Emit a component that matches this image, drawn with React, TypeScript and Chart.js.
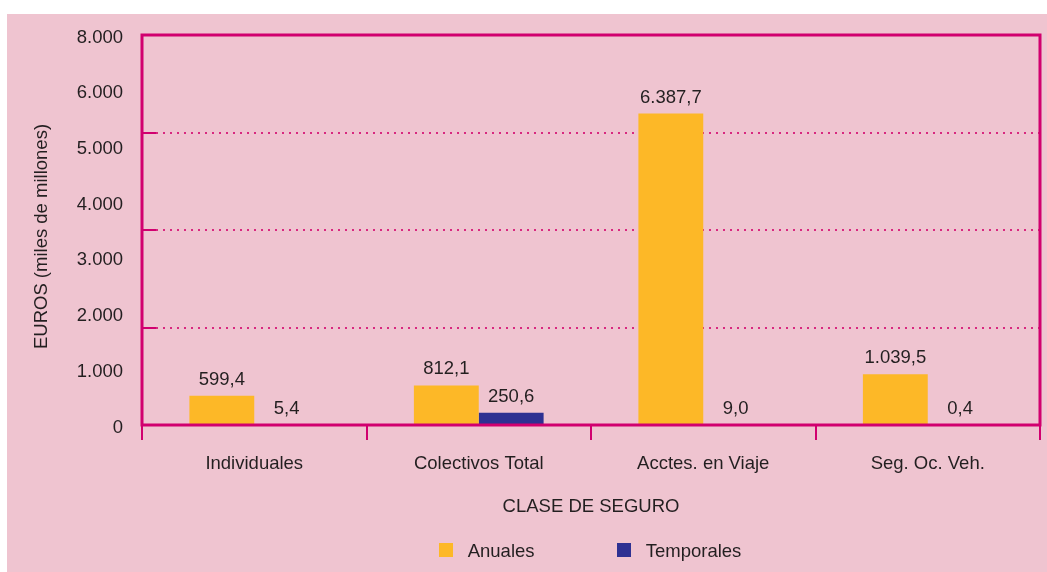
import React, { useEffect, useRef } from "react";
import { Chart, registerables } from "chart.js";

Chart.register(...registerables);

const categories = ["Individuales", "Colectivos Total", "Acctes. en Viaje", "Seg. Oc. Veh."];
const anuales = [599.4, 812.1, 6387.7, 1039.5];
const temporales = [5.4, 250.6, 9.0, 0.4];
const seriesNames = ["Anuales", "Temporales"];
const yTickLabels = ["0", "1.000", "2.000", "3.000", "4.000", "5.000", "6.000", "8.000"];
const gridValues = [2000, 4000, 6000];
const yMax = 8000;

const PINK = "#efc4d0";
const MAGENTA = "#d1006f";
const DOT = "#d8287f";
const TEXT = "#231f20";
const ORANGE = "#fdb827";
const NAVY = "#2e3192";
const FONT = "'Liberation Sans', Arial, Helvetica, sans-serif";
const FS = 18.5;

function fmt(v: number): string {
  const [i, d] = v.toFixed(1).split(".");
  const withDots = i.replace(/\B(?=(\d{3})+(?!\d))/g, ".");
  return withDots + "," + d;
}

const extras = {
  id: "extras",
  afterDatasetsDraw(chart: any) {
    const ctx = chart.ctx;
    const area = chart.chartArea;
    const y = chart.scales.y;
    ctx.save();
    ctx.strokeStyle = MAGENTA;
    ctx.lineWidth = 2;
    gridValues.forEach((v) => {
      const py = Math.round(y.getPixelForValue(v));
      ctx.beginPath();
      ctx.moveTo(area.left, py);
      ctx.lineTo(area.left + 14, py);
      ctx.stroke();
    });
    ctx.lineWidth = 3;
    ctx.strokeStyle = MAGENTA;
    ctx.strokeRect(area.left, area.top, area.right - area.left, area.bottom - area.top);
    ctx.fillStyle = TEXT;
    ctx.font = FS + "px " + FONT;
    ctx.textAlign = "center";
    ctx.textBaseline = "alphabetic";
    chart.data.datasets.forEach((ds: any, di: number) => {
      const meta = chart.getDatasetMeta(di);
      meta.data.forEach((el: any, i: number) => {
        ctx.fillText(fmt(ds.data[i]), el.x, el.y - 11);
      });
    });
    ctx.save();
    ctx.translate(39.7, 222.5);
    ctx.rotate(-Math.PI / 2);
    ctx.textAlign = "center";
    ctx.fillText("EUROS (miles de millones)", 0, 0);
    ctx.restore();
    ctx.textAlign = "center";
    ctx.fillText("CLASE DE SEGURO", (area.left + area.right) / 2, 497.7);
    const colors = [ORANGE, NAVY];
    const sqX = [432, 610];
    ctx.textAlign = "left";
    seriesNames.forEach((n, i) => {
      ctx.fillStyle = colors[i];
      ctx.fillRect(sqX[i], 529, 14, 14);
      ctx.fillStyle = TEXT;
      ctx.fillText(n, sqX[i] + 28.7, 542.5);
    });
    ctx.restore();
  },
};

export default function App() {
  const ref = useRef<HTMLCanvasElement | null>(null);
  useEffect(() => {
    if (!ref.current) return;
    const chart = new Chart(ref.current, {
      type: "bar",
      data: {
        labels: categories,
        datasets: [
          { label: seriesNames[0], data: anuales, backgroundColor: ORANGE, barPercentage: 1, categoryPercentage: 130 / 225 },
          { label: seriesNames[1], data: temporales, backgroundColor: NAVY, barPercentage: 1, categoryPercentage: 130 / 225 },
        ],
      },
      options: {
        responsive: false,
        animation: false,
        layout: { padding: { left: 0, top: 21, right: 7, bottom: 0 } },
        plugins: { legend: { display: false }, tooltip: { enabled: false } },
        scales: {
          x: {
            grid: { offset: true, drawOnChartArea: false, tickLength: 15, color: MAGENTA, lineWidth: 2 },
            border: { display: false },
            ticks: { color: TEXT, font: { family: FONT, size: FS }, padding: 13 },
            afterFit: (s: any) => { s.height = 147; s.paddingLeft = 0; s.paddingRight = 0; },
          },
          y: {
            min: 0,
            max: yMax,
            grid: { display: false, drawTicks: false },
            border: { display: false },
            afterBuildTicks: (s: any) => {
              s.ticks = yTickLabels.map((_, i) => ({ value: (i * yMax) / (yTickLabels.length - 1) }));
            },
            ticks: {
              color: TEXT,
              font: { family: FONT, size: FS },
              padding: 19,
              labelOffset: 2.5,
              callback: (_v: any, i: number) => yTickLabels[i],
            },
            afterFit: (s: any) => { s.width = 135; s.paddingTop = 0; s.paddingBottom = 0; },
          },
          y2: {
            position: "left",
            min: 0,
            max: yMax,
            ticks: { display: false, stepSize: 2000 },
            grid: {
              drawTicks: false,
              lineWidth: 2,
              color: (c: any) => (gridValues.includes(c.tick?.value) ? DOT : "transparent"),
            },
            border: { display: false, dash: [2, 5] },
            afterFit: (s: any) => { s.width = 0; s.paddingTop = 0; s.paddingBottom = 0; },
          },
        },
      },
      plugins: [extras],
    } as any);
    return () => chart.destroy();
  }, []);
  return (
    <div style={{ position: "fixed", left: 7, top: 14, width: 1040, height: 558, background: PINK }}>
      <canvas ref={ref} width={1040} height={558} style={{ display: "block" }} />
    </div>
  );
}
